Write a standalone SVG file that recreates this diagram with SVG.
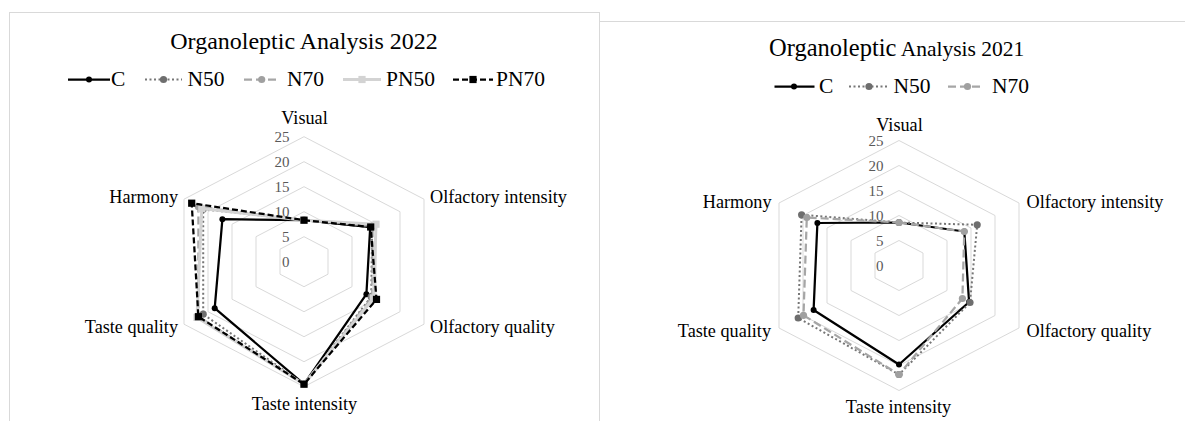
<svg xmlns="http://www.w3.org/2000/svg" width="1185" height="421" viewBox="0 0 1185 421">
<style>
text{font-family:"Liberation Serif","Times New Roman",serif;fill:#000}
.title{font-size:24px}
.leg{font-size:21.5px}
.ax{font-size:18.2px}
.tick{font-size:15px;fill:#595959;text-anchor:end}
.ring{fill:none;stroke:#d9d9d9;stroke-width:1}
.frame{fill:none;stroke:#d9d9d9;stroke-width:1}
.sC{fill:none;stroke:#000;stroke-width:2.25;stroke-linejoin:round}
.sN50{fill:none;stroke:#767676;stroke-width:2;stroke-dasharray:2,2.5}
.sN70{fill:none;stroke:#a6a6a6;stroke-width:2.25;stroke-dasharray:8,4}
.sPN50{fill:none;stroke:#d3d3d3;stroke-width:3;stroke-linejoin:round}
.sPN70{fill:none;stroke:#000;stroke-width:2.25;stroke-dasharray:6,3}
.mC{fill:#000}
.mN50{fill:#6e6e6e}
.mN70{fill:#a0a0a0}
.mPN50{fill:#d3d3d3}
.mPN70{fill:#000}
</style>
<defs>
<circle id="cC" r="3" class="mC"/>
<circle id="cN50" r="3.6" class="mN50"/>
<circle id="cN70" r="3.6" class="mN70"/>
<rect id="qPN50" x="-3.6" y="-3.6" width="7.2" height="7.2" class="mPN50"/>
<rect id="qPN70" x="-3.6" y="-3.6" width="7.2" height="7.2" class="mPN70"/>
</defs>
<rect width="1185" height="421" fill="#fff"/>

<!-- ===== Chart 2022 ===== -->
<g id="chart-2022">
<rect class="frame" x="9.5" y="12.5" width="590" height="430"/>
<text class="title" x="304" y="49" text-anchor="middle">Organoleptic Analysis 2022</text>
<g id="legend-2022">
<line x1="68" y1="79.5" x2="110" y2="79.5" class="sC"/><use href="#cC" x="89" y="79.5"/>
<text class="leg" x="111" y="86">C</text>
<line x1="145" y1="79.5" x2="182" y2="79.5" class="sN50"/><use href="#cN50" x="163.5" y="79.5"/>
<text class="leg" x="187.5" y="86">N50</text>
<line x1="244" y1="79.5" x2="279" y2="79.5" class="sN70"/><use href="#cN70" x="261.7" y="79.5"/>
<text class="leg" x="287" y="86">N70</text>
<line x1="343" y1="79.5" x2="381" y2="79.5" class="sPN50"/><use href="#qPN50" x="362" y="79.5"/>
<text class="leg" x="386" y="86">PN50</text>
<line x1="453" y1="79.5" x2="493" y2="79.5" class="sPN70"/><use href="#qPN70" x="473" y="79.5"/>
<text class="leg" x="496" y="86">PN70</text>
</g>
<g id="grid-2022">
<polygon class="ring" points="304,236.7 328,249.2 328,274.2 304,286.7 280,274.2 280,249.2"/>
<polygon class="ring" points="304,211.7 352,236.7 352,286.7 304,311.7 256,286.7 256,236.7"/>
<polygon class="ring" points="304,186.7 376,224.2 376,299.2 304,336.7 232,299.2 232,224.2"/>
<polygon class="ring" points="304,161.7 400,211.7 400,311.7 304,361.7 208,311.7 208,211.7"/>
<polygon class="ring" points="304,136.7 424,199.2 424,324.2 304,386.7 184,324.2 184,199.2"/>
<text class="tick" x="289.5" y="266.7">0</text>
<text class="tick" x="289.5" y="241.7">5</text>
<text class="tick" x="289.5" y="216.7">10</text>
<text class="tick" x="289.5" y="191.7">15</text>
<text class="tick" x="289.5" y="166.7">20</text>
<text class="tick" x="289.5" y="141.7">25</text>
</g>
<g id="axis-labels-2022">
<text class="ax" x="304.5" y="123.5" text-anchor="middle">Visual</text>
<text class="ax" x="430" y="203">Olfactory intensity</text>
<text class="ax" x="430" y="333">Olfactory quality</text>
<text class="ax" x="304.5" y="410" text-anchor="middle">Taste intensity</text>
<text class="ax" x="178" y="333" text-anchor="end">Taste quality</text>
<text class="ax" x="178" y="203" text-anchor="end">Harmony</text>
</g>
<g id="series-2022">
<g id="s2022-C">
<polygon class="sC" points="304,220.2 370.2,227.2 366.4,294.2 304,384.2 214.7,308.2 222.4,219.2"/>
<use href="#cC" x="304" y="220.2"/><use href="#cC" x="370.2" y="227.2"/><use href="#cC" x="366.4" y="294.2"/><use href="#cC" x="304" y="384.2"/><use href="#cC" x="214.7" y="308.2"/><use href="#cC" x="222.4" y="219.2"/>
</g>
<g id="s2022-N50">
<polygon class="sN50" points="304,220.2 372.2,226.2 371.2,296.7 304,384.2 203.2,314.2 203.2,209.2"/>
<use href="#cN50" x="304" y="220.2"/><use href="#cN50" x="372.2" y="226.2"/><use href="#cN50" x="371.2" y="296.7"/><use href="#cN50" x="304" y="384.2"/><use href="#cN50" x="203.2" y="314.2"/><use href="#cN50" x="203.2" y="209.2"/>
</g>
<g id="s2022-N70">
<polygon class="sN70" points="304,220.2 372.6,226 372.2,297.2 304,384.2 198.4,316.7 198.4,206.7"/>
<use href="#cN70" x="304" y="220.2"/><use href="#cN70" x="372.6" y="226"/><use href="#cN70" x="372.2" y="297.2"/><use href="#cN70" x="304" y="384.2"/><use href="#cN70" x="198.4" y="316.7"/><use href="#cN70" x="198.4" y="206.7"/>
</g>
<g id="s2022-PN50">
<polygon class="sPN50" points="304,220.2 376,224.2 373.6,298 304,384.2 197,317.4 201.8,208.4"/>
<use href="#qPN50" x="304" y="220.2"/><use href="#qPN50" x="376" y="224.2"/><use href="#qPN50" x="373.6" y="298"/><use href="#qPN50" x="304" y="384.2"/><use href="#qPN50" x="197" y="317.4"/><use href="#qPN50" x="201.8" y="208.4"/>
</g>
<g id="s2022-PN70">
<polygon class="sPN70" points="304,220.2 370.7,227 376.5,299.4 304,384.2 198.4,316.7 191.7,203.2"/>
<use href="#qPN70" x="304" y="220.2"/><use href="#qPN70" x="370.7" y="227"/><use href="#qPN70" x="376.5" y="299.4"/><use href="#qPN70" x="304" y="384.2"/><use href="#qPN70" x="198.4" y="316.7"/><use href="#qPN70" x="191.7" y="203.2"/>
</g>
</g>
</g>

<!-- ===== Chart 2021 ===== -->
<g id="chart-2021">
<line class="frame" x1="599.5" y1="21.5" x2="1185" y2="21.5"/>
<text class="title" x="769" y="55.5"><tspan font-size="24.5">Organoleptic</tspan><tspan font-size="21.5"> Analysis 2021</tspan></text>
<g id="legend-2021">
<line x1="774.5" y1="86.5" x2="814.5" y2="86.5" class="sC"/><use href="#cC" x="794" y="86.5"/>
<text class="leg" x="819" y="93">C</text>
<line x1="849" y1="86.5" x2="888" y2="86.5" class="sN50"/><use href="#cN50" x="869" y="86.5"/>
<text class="leg" x="893.5" y="93">N50</text>
<line x1="948" y1="86.5" x2="984" y2="86.5" class="sN70"/><use href="#cN70" x="967.5" y="86.5"/>
<text class="leg" x="992" y="93">N70</text>
</g>
<g id="grid-2021">
<polygon class="ring" points="899,240.5 923,253 923,278 899,290.5 875,278 875,253"/>
<polygon class="ring" points="899,215.5 947,240.5 947,290.5 899,315.5 851,290.5 851,240.5"/>
<polygon class="ring" points="899,190.5 971,228 971,303 899,340.5 827,303 827,228"/>
<polygon class="ring" points="899,165.5 995,215.5 995,315.5 899,365.5 803,315.5 803,215.5"/>
<polygon class="ring" points="899,140.5 1019,203 1019,328 899,390.5 779,328 779,203"/>
<text class="tick" x="883.5" y="270.5">0</text>
<text class="tick" x="883.5" y="245.5">5</text>
<text class="tick" x="883.5" y="220.5">10</text>
<text class="tick" x="883.5" y="195.5">15</text>
<text class="tick" x="883.5" y="170.5">20</text>
<text class="tick" x="883.5" y="145.5">25</text>
</g>
<g id="axis-labels-2021">
<text class="ax" x="899.5" y="131" text-anchor="middle">Visual</text>
<text class="ax" x="1026.5" y="207.5">Olfactory intensity</text>
<text class="ax" x="1026.5" y="336.5">Olfactory quality</text>
<text class="ax" x="898.5" y="412.5" text-anchor="middle">Taste intensity</text>
<text class="ax" x="771" y="336.5" text-anchor="end">Taste quality</text>
<text class="ax" x="771.5" y="207.5" text-anchor="end">Harmony</text>
</g>
<g id="series-2021">
<g id="s2021-C">
<polygon class="sC" points="899,222.5 964.3,231.5 969.1,302 899,364.5 813.6,310 817.4,223"/>
<use href="#cC" x="899" y="222.5"/><use href="#cC" x="964.3" y="231.5"/><use href="#cC" x="969.1" y="302"/><use href="#cC" x="899" y="364.5"/><use href="#cC" x="813.6" y="310"/><use href="#cC" x="817.4" y="223"/>
</g>
<g id="s2021-N50">
<polygon class="sN50" points="899,222.5 977.2,224.8 970,302.5 899,374.5 798.2,318 801.6,214.8"/>
<use href="#cN50" x="899" y="222.5"/><use href="#cN50" x="977.2" y="224.8"/><use href="#cN50" x="970" y="302.5"/><use href="#cN50" x="899" y="374.5"/><use href="#cN50" x="798.2" y="318"/><use href="#cN50" x="801.6" y="214.8"/>
</g>
<g id="s2021-N70">
<polygon class="sN70" points="899,222.5 964.3,231.5 962.4,298.5 899,374.5 803.5,315.3 806.8,217.5"/>
<use href="#cN70" x="899" y="222.5"/><use href="#cN70" x="964.3" y="231.5"/><use href="#cN70" x="962.4" y="298.5"/><use href="#cN70" x="899" y="374.5"/><use href="#cN70" x="803.5" y="315.3"/><use href="#cN70" x="806.8" y="217.5"/>
</g>
</g>
</g>
</svg>
